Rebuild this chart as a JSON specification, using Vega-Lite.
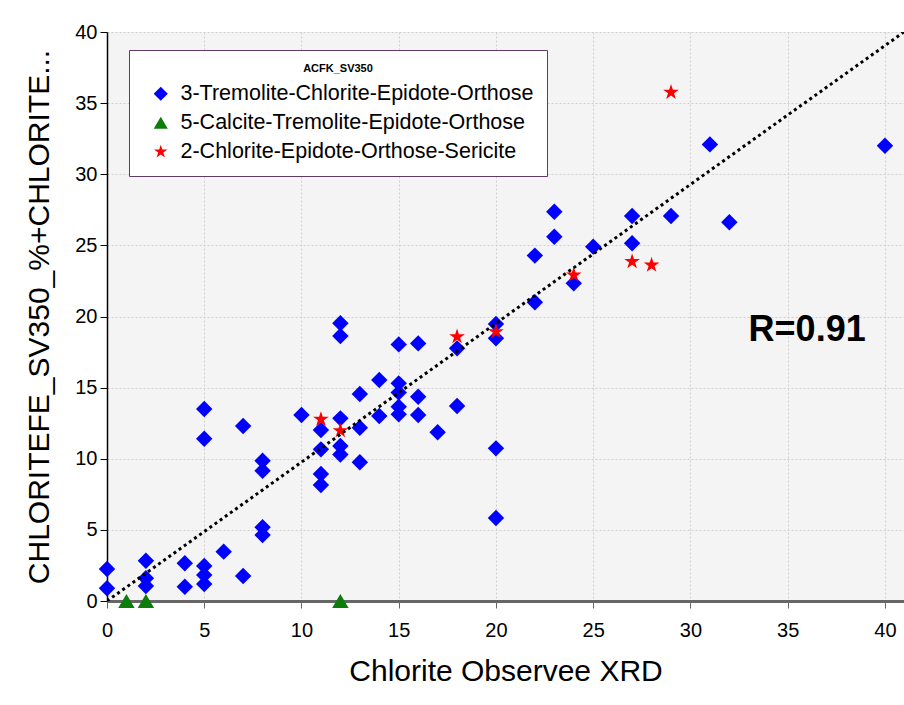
{
  "$schema": "https://vega.github.io/schema/vega-lite/v6.json",
  "width": 797,
  "height": 569,
  "autosize": "none",
  "padding": {"left": 107, "top": 32, "right": 0, "bottom": 104},
  "background": "white",
  "config": {
    "font": "Liberation Sans",
    "view": {"fill": "#f4f4f4", "stroke": null}
  },
  "layer": [
    {
      "data": {
        "values": [
          {"x": 1, "y": 0, "g": "5-Calcite-Tremolite-Epidote-Orthose"},
          {"x": 2, "y": 0, "g": "5-Calcite-Tremolite-Epidote-Orthose"},
          {"x": 12, "y": 0, "g": "5-Calcite-Tremolite-Epidote-Orthose"},
          {"x": 0, "y": 2.25, "g": "3-Tremolite-Chlorite-Epidote-Orthose"},
          {"x": 0, "y": 0.9, "g": "3-Tremolite-Chlorite-Epidote-Orthose"},
          {"x": 2, "y": 2.83, "g": "3-Tremolite-Chlorite-Epidote-Orthose"},
          {"x": 2, "y": 1.6, "g": "3-Tremolite-Chlorite-Epidote-Orthose"},
          {"x": 2, "y": 1.05, "g": "3-Tremolite-Chlorite-Epidote-Orthose"},
          {"x": 4, "y": 2.65, "g": "3-Tremolite-Chlorite-Epidote-Orthose"},
          {"x": 4, "y": 1.0, "g": "3-Tremolite-Chlorite-Epidote-Orthose"},
          {"x": 5, "y": 13.5, "g": "3-Tremolite-Chlorite-Epidote-Orthose"},
          {"x": 5, "y": 11.4, "g": "3-Tremolite-Chlorite-Epidote-Orthose"},
          {"x": 5, "y": 2.46, "g": "3-Tremolite-Chlorite-Epidote-Orthose"},
          {"x": 5, "y": 1.83, "g": "3-Tremolite-Chlorite-Epidote-Orthose"},
          {"x": 5, "y": 1.2, "g": "3-Tremolite-Chlorite-Epidote-Orthose"},
          {"x": 6, "y": 3.47, "g": "3-Tremolite-Chlorite-Epidote-Orthose"},
          {"x": 7, "y": 12.3, "g": "3-Tremolite-Chlorite-Epidote-Orthose"},
          {"x": 7, "y": 1.76, "g": "3-Tremolite-Chlorite-Epidote-Orthose"},
          {"x": 8, "y": 9.86, "g": "3-Tremolite-Chlorite-Epidote-Orthose"},
          {"x": 8, "y": 9.16, "g": "3-Tremolite-Chlorite-Epidote-Orthose"},
          {"x": 8, "y": 5.18, "g": "3-Tremolite-Chlorite-Epidote-Orthose"},
          {"x": 8, "y": 4.64, "g": "3-Tremolite-Chlorite-Epidote-Orthose"},
          {"x": 10, "y": 13.08, "g": "3-Tremolite-Chlorite-Epidote-Orthose"},
          {"x": 11, "y": 12.02, "g": "3-Tremolite-Chlorite-Epidote-Orthose"},
          {"x": 11, "y": 10.66, "g": "3-Tremolite-Chlorite-Epidote-Orthose"},
          {"x": 11, "y": 8.93, "g": "3-Tremolite-Chlorite-Epidote-Orthose"},
          {"x": 11, "y": 8.15, "g": "3-Tremolite-Chlorite-Epidote-Orthose"},
          {"x": 12, "y": 19.52, "g": "3-Tremolite-Chlorite-Epidote-Orthose"},
          {"x": 12, "y": 18.63, "g": "3-Tremolite-Chlorite-Epidote-Orthose"},
          {"x": 12, "y": 12.84, "g": "3-Tremolite-Chlorite-Epidote-Orthose"},
          {"x": 12, "y": 10.9, "g": "3-Tremolite-Chlorite-Epidote-Orthose"},
          {"x": 12, "y": 10.3, "g": "3-Tremolite-Chlorite-Epidote-Orthose"},
          {"x": 13, "y": 14.55, "g": "3-Tremolite-Chlorite-Epidote-Orthose"},
          {"x": 13, "y": 12.18, "g": "3-Tremolite-Chlorite-Epidote-Orthose"},
          {"x": 13, "y": 9.75, "g": "3-Tremolite-Chlorite-Epidote-Orthose"},
          {"x": 14, "y": 15.54, "g": "3-Tremolite-Chlorite-Epidote-Orthose"},
          {"x": 14, "y": 13.0, "g": "3-Tremolite-Chlorite-Epidote-Orthose"},
          {"x": 15, "y": 18.04, "g": "3-Tremolite-Chlorite-Epidote-Orthose"},
          {"x": 15, "y": 15.3, "g": "3-Tremolite-Chlorite-Epidote-Orthose"},
          {"x": 15, "y": 14.65, "g": "3-Tremolite-Chlorite-Epidote-Orthose"},
          {"x": 15, "y": 13.66, "g": "3-Tremolite-Chlorite-Epidote-Orthose"},
          {"x": 15, "y": 13.12, "g": "3-Tremolite-Chlorite-Epidote-Orthose"},
          {"x": 16, "y": 18.11, "g": "3-Tremolite-Chlorite-Epidote-Orthose"},
          {"x": 16, "y": 14.36, "g": "3-Tremolite-Chlorite-Epidote-Orthose"},
          {"x": 16, "y": 13.08, "g": "3-Tremolite-Chlorite-Epidote-Orthose"},
          {"x": 17, "y": 11.86, "g": "3-Tremolite-Chlorite-Epidote-Orthose"},
          {"x": 18, "y": 17.76, "g": "3-Tremolite-Chlorite-Epidote-Orthose"},
          {"x": 18, "y": 13.71, "g": "3-Tremolite-Chlorite-Epidote-Orthose"},
          {"x": 20, "y": 19.47, "g": "3-Tremolite-Chlorite-Epidote-Orthose"},
          {"x": 20, "y": 18.47, "g": "3-Tremolite-Chlorite-Epidote-Orthose"},
          {"x": 20, "y": 10.73, "g": "3-Tremolite-Chlorite-Epidote-Orthose"},
          {"x": 20, "y": 5.83, "g": "3-Tremolite-Chlorite-Epidote-Orthose"},
          {"x": 22, "y": 24.28, "g": "3-Tremolite-Chlorite-Epidote-Orthose"},
          {"x": 22, "y": 21.0, "g": "3-Tremolite-Chlorite-Epidote-Orthose"},
          {"x": 23, "y": 27.37, "g": "3-Tremolite-Chlorite-Epidote-Orthose"},
          {"x": 23, "y": 25.61, "g": "3-Tremolite-Chlorite-Epidote-Orthose"},
          {"x": 24, "y": 22.33, "g": "3-Tremolite-Chlorite-Epidote-Orthose"},
          {"x": 25, "y": 24.91, "g": "3-Tremolite-Chlorite-Epidote-Orthose"},
          {"x": 27, "y": 27.07, "g": "3-Tremolite-Chlorite-Epidote-Orthose"},
          {"x": 27, "y": 25.15, "g": "3-Tremolite-Chlorite-Epidote-Orthose"},
          {"x": 29, "y": 27.07, "g": "3-Tremolite-Chlorite-Epidote-Orthose"},
          {"x": 31, "y": 32.1, "g": "3-Tremolite-Chlorite-Epidote-Orthose"},
          {"x": 32, "y": 26.62, "g": "3-Tremolite-Chlorite-Epidote-Orthose"},
          {"x": 40, "y": 32.0, "g": "3-Tremolite-Chlorite-Epidote-Orthose"},
          {"x": 11, "y": 12.77, "g": "2-Chlorite-Epidote-Orthose-Sericite"},
          {"x": 12, "y": 11.97, "g": "2-Chlorite-Epidote-Orthose-Sericite"},
          {"x": 18, "y": 18.58, "g": "2-Chlorite-Epidote-Orthose-Sericite"},
          {"x": 20, "y": 18.93, "g": "2-Chlorite-Epidote-Orthose-Sericite"},
          {"x": 24, "y": 22.92, "g": "2-Chlorite-Epidote-Orthose-Sericite"},
          {"x": 27, "y": 23.86, "g": "2-Chlorite-Epidote-Orthose-Sericite"},
          {"x": 28, "y": 23.62, "g": "2-Chlorite-Epidote-Orthose-Sericite"},
          {"x": 29, "y": 35.76, "g": "2-Chlorite-Epidote-Orthose-Sericite"}
        ]
      },
      "mark": {"type": "point", "filled": true, "opacity": 1, "size": 270, "strokeWidth": 0},
      "encoding": {
        "x": {
          "field": "x", "type": "quantitative",
          "scale": {"domain": [0, 40.98], "nice": false, "zero": false},
          "axis": {
            "values": [0, 5, 10, 15, 20, 25, 30, 35, 40],
            "grid": true, "gridColor": "#cfcfcf", "gridDash": [2, 2], "gridWidth": 1,
            "domainColor": "#666666", "domainWidth": 3,
            "tickColor": "#666666", "tickSize": 7, "tickWidth": 1,
            "labelFontSize": 20, "labelPadding": 12, "labelColor": "black",
            "labelFlush": false, "labelOverlap": false,
            "title": "Chlorite Observee XRD", "titleFontSize": 30, "titleFontWeight": "normal",
            "titleColor": "black", "titlePadding": 16
          }
        },
        "y": {
          "field": "y", "type": "quantitative",
          "scale": {"domain": [0, 40], "nice": false},
          "axis": {
            "values": [0, 5, 10, 15, 20, 25, 30, 35, 40],
            "grid": true, "gridColor": "#cfcfcf", "gridDash": [2, 2], "gridWidth": 1,
            "domainColor": "black", "domainWidth": 1.5,
            "tickColor": "black", "tickSize": 7, "tickWidth": 1,
            "labelFontSize": 20, "labelPadding": 3, "labelColor": "black",
            "labelFlush": false, "labelOverlap": false,
            "title": "CHLORITEFE_SV350_%+CHLORITE...", "titleFontSize": 30, "titleFontWeight": "normal",
            "titleColor": "black", "titlePadding": 20, "titleLimit": 0
          }
        },
        "color": {
          "field": "g", "type": "nominal",
          "scale": {
            "domain": ["3-Tremolite-Chlorite-Epidote-Orthose", "5-Calcite-Tremolite-Epidote-Orthose", "2-Chlorite-Epidote-Orthose-Sericite"],
            "range": ["#0000ff", "#0a7d0a", "#ff0000"]
          },
          "legend": {
            "orient": "none", "legendX": 22, "legendY": 18,
            "title": "ACFK_SV350", "titleFontSize": 11, "titleFontWeight": "bold",
            "titleAnchor": "middle", "titleColor": "black", "titlePadding": 9,
            "labelFontSize": 21.5, "labelColor": "black", "labelLimit": 0, "labelOffset": 9,
            "symbolSize": 200, "symbolStrokeWidth": 0, "symbolOffset": 8,
            "fillColor": "white", "strokeColor": "#5f3b66", "padding": 13, "rowPadding": 6
          }
        },
        "shape": {
          "field": "g", "type": "nominal",
          "scale": {
            "domain": ["3-Tremolite-Chlorite-Epidote-Orthose", "5-Calcite-Tremolite-Epidote-Orthose", "2-Chlorite-Epidote-Orthose-Sericite"],
            "range": ["diamond", "triangle-up", "M0,-1L0.225,-0.309L0.951,-0.309L0.363,0.118L0.588,0.809L0,0.382L-0.588,0.809L-0.363,0.118L-0.951,-0.309L-0.225,-0.309Z"]
          }
        }
      }
    },
    {
      "data": {"values": [{"x": 0, "y": 0}, {"x": 40.98, "y": 40}]},
      "mark": {"type": "line", "color": "black", "strokeWidth": 3, "strokeDash": [3, 3.3], "strokeCap": "butt", "clip": true},
      "encoding": {
        "x": {"field": "x", "type": "quantitative"},
        "y": {"field": "y", "type": "quantitative"}
      }
    },
    {
      "data": {"values": [{"x": 36.0, "y": 19.05, "label": "R=0.91"}]},
      "mark": {"type": "text", "fontSize": 36, "fontWeight": "bold", "align": "center", "baseline": "middle", "color": "black"},
      "encoding": {
        "x": {"field": "x", "type": "quantitative"},
        "y": {"field": "y", "type": "quantitative"},
        "text": {"field": "label"}
      }
    }
  ]
}
